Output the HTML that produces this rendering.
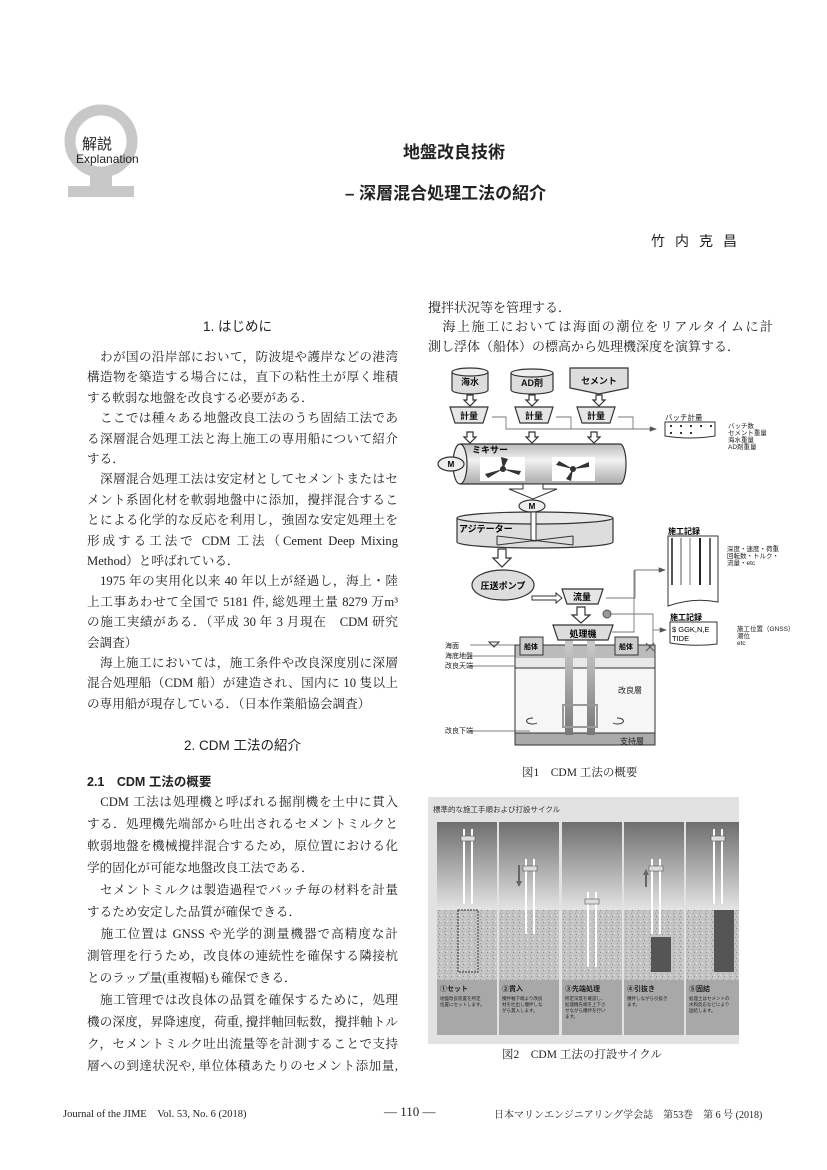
<!DOCTYPE html>
<html><head><meta charset="utf-8">
<style>
body{margin:0;background:#fff;}
#pg{position:relative;width:827px;height:1170px;overflow:hidden;background:#fff;font-family:"Liberation Serif","Noto Serif CJK SC",serif;color:#222;}
.a{position:absolute;white-space:nowrap;}
.l{position:absolute;left:87px;width:311px;font-size:12.6px;line-height:16px;text-align:justify;text-align-last:justify;white-space:nowrap;}
.n{text-align-last:left;}
.r{left:428px;width:345px;font-size:13px;}
.g{font-family:"Liberation Sans","Noto Sans CJK SC",sans-serif;}
</style></head><body><div id="pg">

<!-- logo -->
<svg class="a" style="left:60px;top:95px" width="90" height="110">
<circle cx="41" cy="46" r="31" fill="none" stroke="#c8c8c8" stroke-width="11"/>
<rect x="8" y="91" width="66" height="11" fill="#c8c8c8"/>
<rect x="30" y="76" width="22" height="16" fill="#c8c8c8"/>
</svg>
<div class="a g" style="left:82px;top:133px;font-size:15px;">解説</div>
<div class="a g" style="left:76px;top:152px;font-size:12px;">Explanation</div>

<div class="a g" style="left:403px;top:138px;font-size:17px;font-weight:bold;">地盤改良技術</div>
<div class="a g" style="left:345px;top:179px;font-size:17px;font-weight:bold;">– 深層混合処理工法の紹介</div>
<div class="a g" style="left:651px;top:231px;font-size:14px;letter-spacing:10px;">竹内克昌</div>

<div class="a g" style="left:203px;top:315px;font-size:13.5px;">1.  はじめに</div>

<div class="l" style="top:349px">　わが国の沿岸部において，防波堤や護岸などの港湾</div>
<div class="l" style="top:369px">構造物を築造する場合には，直下の粘性土が厚く堆積</div>
<div class="l n" style="top:390px">する軟弱な地盤を改良する必要がある．</div>
<div class="l" style="top:410px">　ここでは種々ある地盤改良工法のうち固結工法であ</div>
<div class="l" style="top:431px">る深層混合処理工法と海上施工の専用船について紹介</div>
<div class="l n" style="top:451px">する．</div>
<div class="l" style="top:471px">　深層混合処理工法は安定材としてセメントまたはセ</div>
<div class="l" style="top:492px">メント系固化材を軟弱地盤中に添加，攪拌混合するこ</div>
<div class="l" style="top:512px">とによる化学的な反応を利用し，強固な安定処理土を</div>
<div class="l" style="top:533px">形成する工法で CDM 工法（Cement Deep Mixing</div>
<div class="l n" style="top:553px">Method）と呼ばれている．</div>
<div class="l" style="top:573px">　1975 年の実用化以来 40 年以上が経過し，海上・陸</div>
<div class="l" style="top:594px">上工事あわせて全国で 5181 件, 総処理土量 8279 万m³</div>
<div class="l" style="top:614px">の施工実績がある．（平成 30 年 3 月現在　CDM 研究</div>
<div class="l n" style="top:635px">会調査）</div>
<div class="l" style="top:655px">　海上施工においては，施工条件や改良深度別に深層</div>
<div class="l" style="top:675px">混合処理船（CDM 船）が建造され、国内に 10 隻以上</div>
<div class="l n" style="top:696px">の専用船が現存している．（日本作業船協会調査）</div>

<div class="a g" style="left:184px;top:734px;font-size:13.5px;">2.  CDM 工法の紹介</div>
<div class="a g" style="left:87px;top:771px;font-size:12.5px;font-weight:bold;">2.1　CDM 工法の概要</div>

<div class="l" style="top:794px">　CDM 工法は処理機と呼ばれる掘削機を土中に貫入</div>
<div class="l" style="top:816px">する．処理機先端部から吐出されるセメントミルクと</div>
<div class="l" style="top:838px">軟弱地盤を機械攪拌混合するため，原位置における化</div>
<div class="l n" style="top:860px">学的固化が可能な地盤改良工法である．</div>
<div class="l" style="top:882px">　セメントミルクは製造過程でバッチ毎の材料を計量</div>
<div class="l n" style="top:904px">するため安定した品質が確保できる．</div>
<div class="l" style="top:926px">　施工位置は GNSS や光学的測量機器で高精度な計</div>
<div class="l" style="top:948px">測管理を行うため，改良体の連続性を確保する隣接杭</div>
<div class="l n" style="top:970px">とのラップ量(重複幅)も確保できる．</div>
<div class="l" style="top:992px">　施工管理では改良体の品質を確保するために，処理</div>
<div class="l" style="top:1014px">機の深度，昇降速度，荷重, 攪拌軸回転数，攪拌軸トル</div>
<div class="l" style="top:1036px">ク，セメントミルク吐出流量等を計測することで支持</div>
<div class="l" style="top:1058px">層への到達状況や, 単位体積あたりのセメント添加量,</div>

<div class="l r n" style="top:300px">攪拌状況等を管理する．</div>
<div class="l r" style="top:319px">　海上施工においては海面の潮位をリアルタイムに計</div>
<div class="l r n" style="top:339px">測し浮体（船体）の標高から処理機深度を演算する．</div>

<!-- Figure 1 -->
<svg class="a" style="left:0;top:0" width="827" height="1170" font-family="Liberation Sans,Noto Sans CJK SC,sans-serif">
<defs>
<linearGradient id="cyl" x1="0" y1="0" x2="0" y2="1"><stop offset="0" stop-color="#bbb"/><stop offset=".4" stop-color="#f2f2f2"/><stop offset="1" stop-color="#aaa"/></linearGradient>
<linearGradient id="sh" x1="0" y1="0" x2="0" y2="1"><stop offset="0" stop-color="#ccc"/><stop offset="1" stop-color="#777"/></linearGradient>
<marker id="ar" markerWidth="8" markerHeight="6" refX="7" refY="3" orient="auto"><path d="M0,0L8,3L0,6z" fill="#555"/></marker>
<g id="dn"><path d="M-3,0h6v5h3l-6,6l-6,-6h3z" fill="#fff" stroke="#333" stroke-width="1.2"/></g>
</defs>
<g stroke="#333" stroke-width="1.2">
<path d="M452,372v18a18,4 0 0 0 36,0v-18" fill="#ddd"/><ellipse cx="470" cy="372" rx="18" ry="4" fill="#eee"/>
<path d="M511,373v17a21,4 0 0 0 42,0v-17" fill="#ddd"/><ellipse cx="532" cy="373" rx="21" ry="4" fill="#eee"/>
<path d="M570,368h58v20l-29,6l-29,-6z" fill="#ddd"/>
</g>
<g font-size="9" font-weight="bold" text-anchor="middle" fill="#111">
<text x="470" y="385">海水</text><text x="532" y="386">AD剤</text><text x="599" y="384">セメント</text>
</g>
<use href="#dn" x="470" y="395"/><use href="#dn" x="532" y="395"/><use href="#dn" x="599" y="395"/>
<g stroke="#333" stroke-width="1.2" fill="#e6e6e6">
<path d="M450,407h38l-5,16h-28z"/><path d="M515,407h38l-5,16h-28z"/><path d="M577,407h38l-5,16h-28z"/>
</g>
<g font-size="9" font-weight="bold" text-anchor="middle" fill="#111">
<text x="469" y="419">計量</text><text x="534" y="419">計量</text><text x="596" y="419">計量</text>
</g>
<g fill="none" stroke="#777" stroke-width="0.9">
<path d="M492,417h14v12h150" marker-end="url(#ar)"/>
<path d="M556,417h15v12"/><path d="M618,417h15v12"/>
</g>
<path d="M665,422h50v14q-25,4 -50,0z" fill="#fff" stroke="#333"/>
<g fill="#333"><rect x="670" y="425" width="2" height="2"/><rect x="680" y="425" width="2" height="2"/><rect x="690" y="425" width="2" height="2"/><rect x="700" y="425" width="2" height="2"/><rect x="710" y="425" width="2" height="2"/><rect x="670" y="432" width="2" height="2"/><rect x="680" y="432" width="2" height="2"/><rect x="690" y="432" width="2" height="2"/></g>
<g font-size="6.5" fill="#222"><text x="665" y="420" font-size="7.5">バッチ計量</text>
<text x="728" y="428">バッチ数</text><text x="728" y="435">セメント重量</text><text x="728" y="442">海水重量</text><text x="728" y="449">AD剤重量</text></g>
<use href="#dn" x="470" y="432"/><use href="#dn" x="532" y="432"/><use href="#dn" x="594" y="432"/>
<path d="M460,444h160a6,20 0 0 1 0,40h-160" fill="url(#cyl)" stroke="#333" stroke-width="1.2"/>
<ellipse cx="460" cy="464" rx="7" ry="20" fill="#eee" stroke="#333" stroke-width="1.2"/>
<ellipse cx="451" cy="464" rx="13" ry="7" fill="#eee" stroke="#333" stroke-width="1.2"/>
<text x="451" y="467" font-size="8" font-weight="bold" text-anchor="middle">M</text>
<text x="472" y="453" font-size="9" font-weight="bold">ミキサー</text>
<rect x="480" y="457" width="45" height="24" fill="#fff"/><rect x="552" y="457" width="43" height="24" fill="#fff"/>
<g fill="#333"><path d="M503,469l-18,5l3,4z M503,469l16,6l2,-4z M503,469l-2,-12l7,2z"/><circle cx="503" cy="469" r="3"/>
<path d="M573,469l-14,-8l-3,4z M573,469l16,-2l0,-5z M573,469l-2,12l-5,-2z"/><circle cx="573" cy="469" r="3"/></g>
<path d="M523,484h20v5h14l-24,10l-24,-10h14z" fill="#fff" stroke="#333" stroke-width="1"/>
<ellipse cx="532" cy="506" rx="13" ry="6" fill="#eee" stroke="#333" stroke-width="1.2"/>
<text x="532" y="509" font-size="8" font-weight="bold" text-anchor="middle">M</text>
<path d="M457,518v24a78,6 0 0 0 156,0v-24" fill="#ddd" stroke="#333" stroke-width="1.2"/>
<ellipse cx="535" cy="518" rx="78" ry="6" fill="#e8e8e8" stroke="#333" stroke-width="1.2"/>
<rect x="531" y="512" width="5" height="29" fill="#fff" stroke="#333"/>
<path d="M497,536l76,9M497,545l76,-9M497,536v9M573,536v9" stroke="#333" fill="none"/>
<text x="459" y="532" font-size="9" font-weight="bold">アジテーター</text>
<path d="M498,549h8v9h5l-9,9l-9,-9h5z" fill="#fff" stroke="#333" stroke-width="1.2"/>
<ellipse cx="503" cy="585" rx="31" ry="15" fill="#ddd" stroke="#333" stroke-width="1.2"/>
<text x="503" y="589" font-size="9" font-weight="bold" text-anchor="middle">圧送ポンプ</text>
<path d="M532,596h24v-3l6,5l-6,5v-3h-24z" fill="#fff" stroke="#333"/>
<path d="M562,589h41l-5,15h-31z" fill="#e6e6e6" stroke="#333" stroke-width="1.2"/>
<text x="582" y="600" font-size="9" font-weight="bold" text-anchor="middle">流量</text>
<path d="M577,607h8v8h5l-9,8l-9,-8h5z" fill="#fff" stroke="#333" stroke-width="1.2"/>
<circle cx="607" cy="614" r="4" fill="#999" stroke="#555"/>
<g fill="none" stroke="#777" stroke-width="0.9">
<path d="M606,598h29v-28h30" marker-end="url(#ar)"/>
<path d="M612,632h22v-62"/>
<path d="M609,614h44v36"/>
<path d="M653,630h13" marker-end="url(#ar)"/>
</g>
<text x="668" y="534" font-size="8" font-weight="bold">施工記録</text>
<path d="M668,536h50v66q-25,-5 -50,4z" fill="#fff" stroke="#333"/>
<g stroke-width="2"><line x1="672" y1="538" x2="672" y2="585" stroke="#555"/><line x1="681" y1="538" x2="681" y2="585" stroke="#aaa"/><line x1="690" y1="538" x2="690" y2="585" stroke="#bbb"/><line x1="700" y1="538" x2="700" y2="585" stroke="#222"/><line x1="710" y1="538" x2="710" y2="585" stroke="#666"/></g>
<g font-size="6.5" fill="#222"><text x="727" y="551">深度・速度・荷重</text><text x="727" y="558">回転数・トルク・</text><text x="727" y="565">流量・etc</text></g>
<text x="670" y="620" font-size="8" font-weight="bold">施工記録</text>
<path d="M670,622h47v22q-23,3 -47,-1z" fill="#fff" stroke="#333"/>
<text x="672" y="632" font-size="7.5">$ GGK,N,E</text><text x="672" y="641" font-size="7.5">TIDE</text>
<g font-size="6.5" fill="#222"><text x="737" y="631">施工位置（GNSS）</text><text x="737" y="638">潮位</text><text x="737" y="645">etc</text></g>
<rect x="515" y="645" width="140" height="13" fill="#bbb"/>
<rect x="515" y="658" width="140" height="10" fill="#e8e8e8"/>
<rect x="515" y="668" width="140" height="65" fill="#f6f6f6"/>
<rect x="515" y="733" width="140" height="12" fill="#aaa"/>
<rect x="515" y="645" width="140" height="100" fill="none" stroke="#333"/>
<line x1="515" y1="668" x2="655" y2="668" stroke="#333"/>
<line x1="515" y1="733" x2="655" y2="733" stroke="#333"/>
<rect x="565" y="640" width="8" height="95" fill="url(#sh)"/><rect x="587" y="640" width="8" height="95" fill="url(#sh)"/>
<rect x="563" y="705" width="34" height="22" fill="none" stroke="#999" stroke-width="2"/>
<path d="M533,718a6,3 0 1 0 4,5M617,718a6,3 0 1 1 -4,5" fill="none" stroke="#333"/>
<path d="M553,625h60l-5,15h-50z" fill="#ddd" stroke="#333" stroke-width="1.2"/>
<text x="583" y="637" font-size="9" font-weight="bold" text-anchor="middle">処理機</text>
<rect x="520" y="637" width="23" height="18" fill="#ccc" stroke="#333"/><rect x="615" y="637" width="23" height="18" fill="#ccc" stroke="#333"/>
<text x="531" y="649" font-size="7" font-weight="bold" text-anchor="middle">船体</text><text x="626" y="649" font-size="7" font-weight="bold" text-anchor="middle">船体</text>
<path d="M489,642h10l-5,5z" fill="none" stroke="#333"/>
<path d="M646,643l8,8M654,643l-8,8" stroke="#555"/>
<g fill="none" stroke="#555" stroke-width="0.8"><path d="M470,645h45M470,656h45M470,666h45M470,731h60"/></g>
<g font-size="7" fill="#222"><text x="445" y="648">海面</text><text x="445" y="658">海底地盤</text><text x="445" y="668">改良天端</text><text x="445" y="733">改良下端</text>
<text x="618" y="693" font-size="8">改良層</text><text x="620" y="744" font-size="8">支持層</text></g>
</svg>
<div class="a" style="left:522px;top:764px;font-size:11.5px;">図1　CDM 工法の概要</div>

<!-- Figure 2 -->
<svg class="a" style="left:428px;top:797px" width="311" height="247" font-family="Liberation Sans,Noto Sans CJK SC,sans-serif">
<defs>
<linearGradient id="sky" x1="0" y1="0" x2="0" y2="1"><stop offset="0" stop-color="#6e6e6e"/><stop offset="1" stop-color="#e4e4e4"/></linearGradient>
<pattern id="spk" width="6" height="6" patternUnits="userSpaceOnUse"><rect width="6" height="6" fill="#c4c4c4"/><rect x="1" y="1" width="1" height="1" fill="#999"/><rect x="4" y="3" width="1" height="1" fill="#eee"/><rect x="2" y="4" width="1" height="1" fill="#888"/></pattern>
<g id="p">
<rect x="0" y="0" width="60" height="88" fill="url(#sky)"/>
<rect x="0" y="88" width="60" height="70" fill="url(#spk)"/>
<rect x="0" y="158" width="60" height="55" fill="#a8a8a8"/>
</g>
</defs>
<rect width="311" height="247" fill="#e2e2e2"/>
<text x="5" y="15" font-size="7.5" fill="#333">標準的な施工手順および打設サイクル</text>
<use href="#p" x="9" y="25"/><use href="#p" x="71" y="25"/><use href="#p" x="134" y="25"/><use href="#p" x="196" y="25"/><use href="#p" x="258" y="25"/>
<rect x="223" y="140" width="20" height="35" fill="#555"/>
<rect x="286" y="113" width="20" height="62" fill="#555"/>
<rect x="30" y="113" width="20" height="62" fill="none" stroke="#333" stroke-dasharray="2,1"/>
<g stroke="#fff" stroke-width="2">
<path d="M36,32v75M44,32v75"/><path d="M98,62v75M106,62v75"/><path d="M160,95v75M168,95v75"/><path d="M224,62v75M232,62v75"/><path d="M286,32v75M294,32v75"/>
</g>
<g fill="#ddd" stroke="#555" stroke-width="0.6">
<rect x="33" y="39" width="14" height="5"/><rect x="95" y="69" width="14" height="5"/><rect x="157" y="102" width="14" height="5"/><rect x="221" y="69" width="14" height="5"/><rect x="283" y="39" width="14" height="5"/>
</g>
<path d="M90,68v16h2v-16z M88,84l3,6l3,-6z" fill="#666"/>
<path d="M217,90v-14h2v14z M215,78l3,-6l3,6z" fill="#666"/>
<g font-size="7" font-weight="bold" fill="#222"><text x="12" y="194">①セット</text><text x="74" y="194">②貫入</text><text x="137" y="194">③先端処理</text><text x="199" y="194">④引抜き</text><text x="261" y="194">⑤固結</text></g>
<g font-size="4.5" fill="#222">
<text x="12" y="203">地盤改良装置を所定</text><text x="12" y="209">位置にセットします。</text>
<text x="74" y="203">攪拌軸下端より改良</text><text x="74" y="209">材を吐出し攪拌しな</text><text x="74" y="215">がら貫入します。</text>
<text x="137" y="203">所定深度を確認し、</text><text x="137" y="209">処理機先端を上下さ</text><text x="137" y="215">せながら攪拌を行い</text><text x="137" y="221">ます。</text>
<text x="199" y="203">攪拌しながら引抜き</text><text x="199" y="209">ます。</text>
<text x="261" y="203">処理土はセメントの</text><text x="261" y="209">水和反応などにより</text><text x="261" y="215">固結します。</text>
</g>
</svg>
<div class="a" style="left:502px;top:1046px;font-size:11.5px;">図2　CDM 工法の打設サイクル</div>

<div class="a" style="left:63px;top:1106px;font-size:10.5px;">Journal of the JIME　Vol. 53,  No. 6 (2018)</div>
<div class="a" style="left:384px;top:1104px;font-size:13px;">— 110 —</div>
<div class="a" style="left:494px;top:1106px;font-size:10px;">日本マリンエンジニアリング学会誌　第53巻　第 6 号 (2018)</div>

</div></body></html>
